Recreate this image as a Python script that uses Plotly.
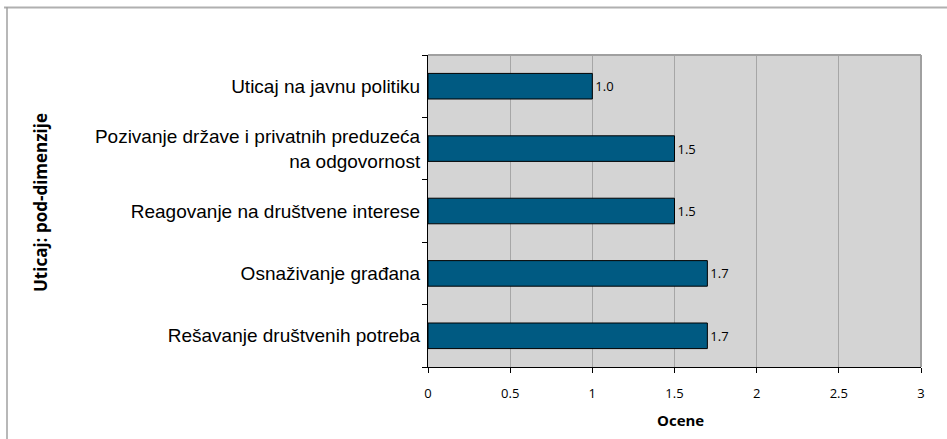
import plotly.graph_objects as go

categories = [
    "Uticaj na javnu politiku",
    "Pozivanje države i privatnih preduzeća<br>na odgovornost",
    "Reagovanje na društvene interese",
    "Osnaživanje građana",
    "Rešavanje društvenih potreba",
]
values = [1.0, 1.5, 1.5, 1.7, 1.7]
x_ticks = [0, 0.5, 1, 1.5, 2, 2.5, 3]
x_tick_labels = ["0", "0.5", "1", "1.5", "2", "2.5", "3"]

W, H = 947, 439
L, R, T, B = 428, 26, 55, 72
pw, ph = W - L - R, H - T - B

def px(x):
    return (x - L) / pw

def py(y):
    return (H - B - y) / ph

narrow = "Liberation Sans Narrow, Open Sans, sans-serif"
bold = "Open Sans, sans-serif"

fig = go.Figure(go.Bar(
    x=values, y=categories, orientation="h",
    marker=dict(color="#005a82", line=dict(color="#000000", width=1)),
    text=[f"{v:.1f}" for v in values], textposition="outside",
    textfont=dict(family=narrow, size=13, color="#000"),
    cliponaxis=False,
))

fig.update_layout(
    width=W, height=H,
    margin=dict(l=L, r=R, t=T, b=B),
    paper_bgcolor="white", plot_bgcolor="#d4d4d4",
    bargap=0.59, showlegend=False,
    xaxis=dict(range=[0, 3], tickvals=x_ticks, ticktext=x_tick_labels,
               showgrid=True, gridcolor="#a6a6a6", gridwidth=1,
               showline=True, linecolor="#000", linewidth=1,
               ticks="outside", ticklen=5, tickcolor="#000",
               ticklabelstandoff=9,
               tickfont=dict(family=narrow, size=13, color="#000"),
               zeroline=False, fixedrange=True),
    yaxis=dict(categoryorder="array", categoryarray=categories[::-1],
               showline=True, linecolor="#000", linewidth=1,
               ticks="outside", ticklen=5, tickcolor="#000", tickson="boundaries",
               ticklabelstandoff=3,
               tickfont=dict(family="Liberation Sans, Arial, sans-serif", size=19, color="#000"),
               showgrid=False, fixedrange=True),
    shapes=[
        dict(type="line", xref="paper", yref="paper", x0=px(4), x1=px(947), y0=py(7.5), y1=py(7.5),
             line=dict(color="#b0b0b0", width=2)),
        dict(type="line", xref="paper", yref="paper", x0=px(7), x1=px(7), y0=py(7), y1=py(440),
             line=dict(color="#a0a0a0", width=1.5)),
        dict(type="line", xref="paper", yref="paper", x0=0, x1=1, y0=1, y1=1,
             line=dict(color="#a0a0a0", width=2)),
        dict(type="line", xref="paper", yref="paper", x0=1, x1=1, y0=0, y1=1,
             line=dict(color="#a0a0a0", width=2)),
    ],
)
fig.add_annotation(text="<b>Uticaj: pod-dimenzije</b>", xref="paper", yref="paper",
                   x=px(40), y=py(203), xanchor="center", yanchor="middle",
                   textangle=-90, showarrow=False,
                   font=dict(family=bold, size=17, color="#000"))
fig.add_annotation(text="<b>Ocene</b>", xref="paper", yref="paper",
                   x=px(680), y=py(420), xanchor="center", yanchor="middle", showarrow=False,
                   font=dict(family=bold, size=15, color="#000"))
fig.write_html("out.html", config={"displayModeBar": False},
               post_script="document.body.style.margin='0';")
